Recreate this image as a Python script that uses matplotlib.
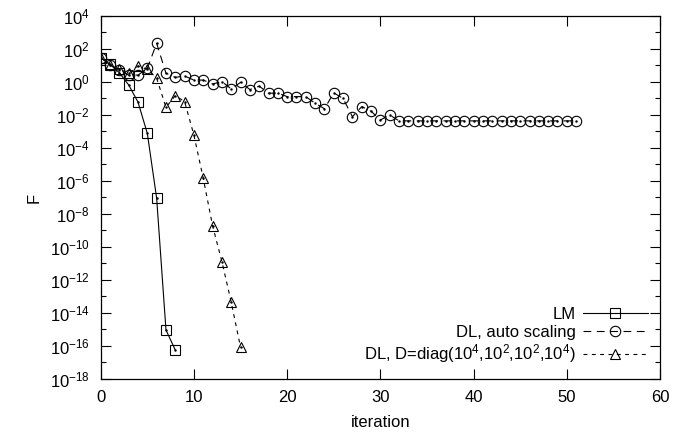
import numpy as np
import matplotlib
matplotlib.use("Agg")
import matplotlib.pyplot as plt
from matplotlib.ticker import FixedLocator, FuncFormatter, NullFormatter

plt.rcParams['font.family'] = ['Liberation Sans', 'DejaVu Sans']
plt.rcParams['mathtext.fontset'] = 'custom'
plt.rcParams['mathtext.rm'] = 'Liberation Sans'
plt.rcParams['mathtext.it'] = 'Liberation Sans'
plt.rcParams['mathtext.default'] = 'regular'

# data
lm_iter = list(range(0, 9))
lm_F = [29.5, 11.8, 3.6, 0.66, 0.06, 7.6e-4, 8.9e-8, 9.3e-16, 5.7e-17]

dl_auto_iter = list(range(0, 52))
dl_auto_F = [29.5, 11.0, 5.3, 2.6, 2.6, 6.8, 220, 3.4, 1.9, 2.3,
             1.3, 1.3, 0.76, 1.05, 0.38, 0.95, 0.35, 0.56, 0.21, 0.21,
             0.13, 0.13, 0.13, 0.051, 0.024, 0.22, 0.10, 0.0079, 0.032, 0.017,
             0.0050, 0.010] + [0.0044] * 20

dl_diag_iter = list(range(0, 16))
dl_diag_F = [29.5, 11.0, 5.9, 3.4, 9.3, 5.9, 1.7, 0.029, 0.15, 0.064,
             5.9e-4, 1.45e-6, 1.9e-9, 1.3e-11, 4.5e-14, 8.3e-17]

labels = ["LM", "DL, auto scaling", r"DL, D=diag(10$^4$,10$^2$,10$^2$,10$^4$)"]
x_ticks = [0, 10, 20, 30, 40, 50, 60]
y_major_exp = list(range(4, -19, -2))
y_minor_exp = list(range(3, -18, -2))

fs = 12

fig = plt.figure(figsize=(7.0, 4.44), dpi=100)
ax = fig.add_axes([0.1439, 0.1464, 0.9429 - 0.1439, 0.964 - 0.1464])

lw = 0.8
ms = 7
ax.plot(lm_iter, lm_F, color='black', lw=lw, ls='-', marker='s', ms=ms,
        mfc='none', mec='black', mew=lw, label=labels[0])
ax.plot(dl_auto_iter, dl_auto_F, color='black', lw=lw, ls=(0, (7, 5)), marker='o',
        ms=ms + 0.5, mfc='none', mec='black', mew=lw, label=labels[1])
ax.plot(dl_diag_iter, dl_diag_F, color='black', lw=lw, ls=(0, (3.5, 4)), marker='^',
        ms=ms, mfc='none', mec='black', mew=lw, label=labels[2])
for xs, ys in [(lm_iter, lm_F), (dl_auto_iter, dl_auto_F), (dl_diag_iter, dl_diag_F)]:
    ax.plot(xs, ys, ls='none', marker='.', ms=1.5, color='black')

ax.set_yscale('log')
ax.set_xlim(0, 60)
ax.set_ylim(1e-18, 1e4)
ax.xaxis.set_major_locator(FixedLocator(x_ticks))
ax.yaxis.set_major_locator(FixedLocator([10.0 ** e for e in y_major_exp]))
ax.yaxis.set_minor_locator(FixedLocator([10.0 ** e for e in y_minor_exp]))
ax.yaxis.set_major_formatter(FuncFormatter(lambda v, p: r'10$^{%d}$' % int(round(np.log10(v)))))
ax.yaxis.set_minor_formatter(NullFormatter())
ax.tick_params(which='both', direction='in', top=True, right=True, labelsize=fs, width=0.8)
ax.tick_params(which='major', length=7)
ax.tick_params(axis='x', which='major', pad=8)
ax.tick_params(axis='y', which='major', pad=8)
ax.tick_params(which='minor', length=3.5)
for s in ax.spines.values():
    s.set_linewidth(0.9)

ax.set_xlabel('iteration', fontsize=fs, labelpad=7)
ax.set_ylabel('F', fontsize=fs, labelpad=6)

leg = ax.legend(loc='lower right', frameon=False, markerfirst=False, fontsize=fs,
                handlelength=3.9, handletextpad=0.4, labelspacing=0.15,
                borderaxespad=0.0, borderpad=0.4,
                bbox_to_anchor=(0.99, 0.02))
for t in leg.get_texts():
    t.set_ha('right')

fig.savefig('out.png', dpi=100)
